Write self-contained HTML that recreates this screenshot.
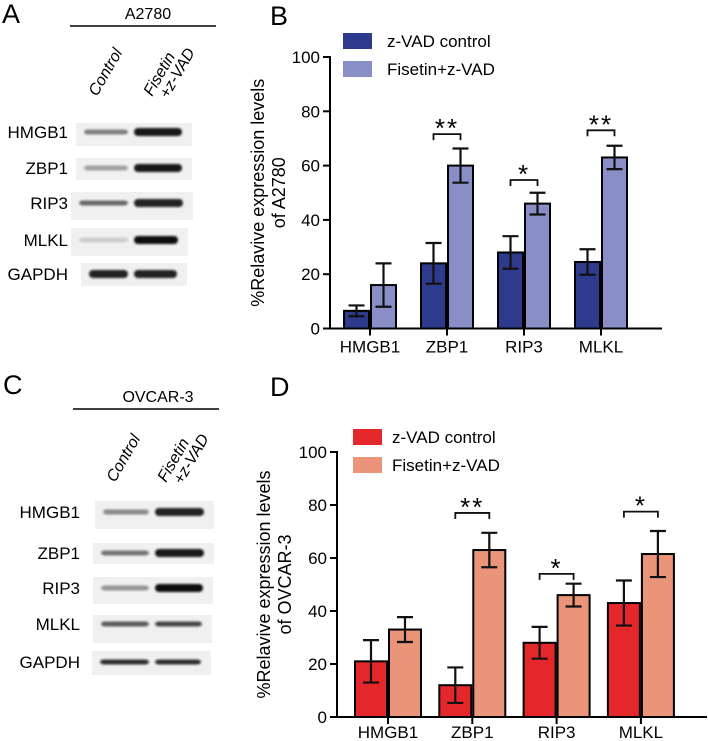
<!DOCTYPE html>
<html><head><meta charset="utf-8"><style>
html,body{margin:0;padding:0;background:#fff;}
svg{display:block;font-family:"Liberation Sans",Arial,sans-serif;}
</style></head><body>
<svg id="fig" width="708" height="741" viewBox="0 0 708 741">
<defs>
<filter id="blur2" x="-20%" y="-100%" width="140%" height="300%"><feGaussianBlur stdDeviation="1.1"/></filter>
</defs>
<g id="blotA"></g>
<g id="blotC"></g>
<g id="chartB"></g>
<g id="chartD"></g>
</svg>
<script>
// ---- chart data ----
const categories = ["HMGB1","ZBP1","RIP3","MLKL"];
const yTicks = [0,20,40,60,80,100];
const seriesNames = ["z-VAD control","Fisetin+z-VAD"];
const bControl = [6.5,24,28,24.5];
const bControlErr = [2,7.5,6,4.7];
const bFisetin = [16,60,46,63];
const bFisetinErr = [8,6.3,4,4.3];
const bSig = ["","**","*","**"];
const bSigLevel = [0,71.6,54.7,73];
const dControl = [21,12,28,43];
const dControlErr = [8,6.7,6,8.5];
const dFisetin = [33,63,46,61.5];
const dFisetinErr = [4.7,6.5,4.3,8.7];
const dSig = ["","**","*","*"];
const dSigLevel = [0,77,54,77.5];

const NS="http://www.w3.org/2000/svg";
function mk(parent,tag,attrs,text){const e=document.createElementNS(NS,tag);for(const k in attrs)e.setAttribute(k,attrs[k]);if(text!==undefined)e.textContent=text;parent.appendChild(e);return e;}

function chart(g,o){
  const y=v=>o.y0-(v/100)*(o.y0-o.y100);
  const cx=i=>o.c0+i*o.step;
  const lbl=mk(g,'text',{x:o.panelX,y:o.panelY,'font-size':27},o.panel);
  
  
  const ax=mk(g,'line',{x1:o.x0,y1:o.y100-1,x2:o.x0,y2:o.y0+1,stroke:'#000','stroke-width':2});
  
  
  const xa=mk(g,'line',{x1:o.x0-1,y1:o.y0,x2:o.xEnd,y2:o.y0,stroke:'#000','stroke-width':2});
  
  
  yTicks.forEach(t=>{
    const tk=mk(g,'line',{x1:o.x0-7,y1:y(t),x2:o.x0,y2:y(t),stroke:'#000','stroke-width':2});
    
    
    const tl=mk(g,'text',{x:o.x0-10,y:y(t)+6,'font-size':17,'text-anchor':'end'},String(t));
    
    
  });
  const yt=mk(g,'text',{transform:`translate(${o.ytX},${(o.y0+o.y100)/2}) rotate(-90)`,'font-size':18,'text-anchor':'middle'});
  
  
  mk(yt,'tspan',{x:0,dy:-10},'%Relavive expression levels');
  mk(yt,'tspan',{x:0,dy:21},o.title2);
  categories.forEach((c,i)=>{
    const tk=mk(g,'line',{x1:cx(i),y1:o.y0,x2:cx(i),y2:o.y0+7,stroke:'#000','stroke-width':2});
    
    
    const tl=mk(g,'text',{x:cx(i),y:o.y0+o.labDy,'font-size':17,'text-anchor':'middle'},c);
    
    
    [[o.a,o.ae,o.c1,-1],[o.b,o.be,o.c2,1]].forEach(([vals,errs,col,side],s)=>{
      const v=vals[i],e=errs[i];
      const x=side<0?cx(i)-o.bw:cx(i);
      const r=mk(g,'rect',{x:x+1,y:y(v),width:o.bw-2,height:o.y0-y(v),fill:col,stroke:'#000','stroke-width':2});
      
      
      const mx=x+o.bw/2;
      const eb=mk(g,'path',{d:`M${mx},${y(v+e)}V${y(v-e)}M${mx-8},${y(v+e)}H${mx+8}M${mx-8},${y(v-e)}H${mx+8}`,stroke:'#111','stroke-width':2.2,fill:'none'});
      
      
    });
    if(o.sig[i]){
      const l=cx(i)-o.bw/2,rr=cx(i)+o.bw/2,sy=y(o.sigL[i]);
      const br=mk(g,'path',{d:`M${l},${sy+6}V${sy}H${rr}V${sy+6}`,stroke:'#111','stroke-width':1.8,fill:'none'});
      
      
      const st=mk(g,'text',{x:cx(i),y:sy+3,'font-size':26,'letter-spacing':'2','text-anchor':'middle'},o.sig[i]);
      
      
    }
  });
  [o.c1,o.c2].forEach((col,s)=>{
    const r=mk(g,'rect',{x:o.legX,y:o.legY+s*28,width:29,height:16,fill:col});
    
    
    const t=mk(g,'text',{x:o.legX+o.legTx,y:o.legY+s*28+14,'font-size':17},seriesNames[s]);
    
    
  });
}
chart(document.getElementById('chartB'),{panel:'B',panelX:270,panelY:25,x0:330,xEnd:662,y0:328.5,y100:57,c0:370,step:77,bw:27,
  a:bControl,ae:bControlErr,b:bFisetin,be:bFisetinErr,sig:bSig,sigL:bSigLevel,c1:'#2e3a8c',c2:'#8a8ec6',
  ytX:274,title2:'of A2780',legX:343,legY:33,legTx:44,labDy:24});
chart(document.getElementById('chartD'),{panel:'D',panelX:270,panelY:396,x0:337,xEnd:707,y0:717,y100:452,c0:388,step:84.3,bw:34,
  a:dControl,ae:dControlErr,b:dFisetin,be:dFisetinErr,sig:dSig,sigL:dSigLevel,c1:'#e3272a',c2:'#ea9479',
  ytX:280,title2:'of OVCAR-3',legX:353,legY:429,legTx:39,labDy:21});

// ---- blots ----
const blotRowsA = ["HMGB1","ZBP1","RIP3","MLKL","GAPDH"];
function blot(g,o){
  const p=mk(g,'text',{x:o.px,y:o.py,'font-size':27},o.panel);
  
  
  const t=mk(g,'text',{x:o.titleX,y:o.titleY,'font-size':16,'text-anchor':'middle'},o.title);
  
  
  const ln=mk(g,'line',{x1:o.lineX1,y1:o.titleY+7,x2:o.lineX2,y2:o.titleY+7,stroke:'#000','stroke-width':1.5});
  
  
  const c=mk(g,'text',{transform:`translate(${o.l1x},${o.rotY}) rotate(-60)`,'font-size':16,'font-style':'italic'},'Control');
  
  
  const f=mk(g,'text',{transform:`translate(${o.l2x},${o.rotY}) rotate(-60)`,'font-size':16,'font-style':'italic'});
  
  
  mk(f,'tspan',{x:0,dy:0},'Fisetin');
  mk(f,'tspan',{x:6,dy:15},'+z-VAD');
  o.rows.forEach((r,i)=>{
    const rw=mk(g,'text',{x:o.lx,y:o.rowY[i]+6,'font-size':17,'text-anchor':'end'},blotRowsA[i]);
    
    
    const bx=mk(g,'rect',{x:r[0],y:r[1],width:r[2],height:r[3],fill:'#f0f0f0'});
    
    
    const cy=o.rowY[i];
    [[o.b1[i],r[0]+8,o.mid-4],[o.b2[i],o.mid+2,r[0]+r[2]-10]].forEach(([op,x1,x2])=>{
      const th=op>0.85?8:5;
      const bd=mk(g,'rect',{x:x1,y:cy-th/2,width:x2-x1,height:th,rx:4,fill:'#111',opacity:op,filter:'url(#blur2)'});
      
      
    });
  });
}
blot(document.getElementById('blotA'),{panel:'A',px:2,py:23,title:'A2780',titleX:148,titleY:19,lineX1:70,lineX2:216,
  l1x:97,l2x:152,rotY:97,lx:68,mid:132,
  rowY:[132,168,203,240,274],
  rows:[[76,123,116,23],[76,158,116,22],[71,192,122,28],[71,228,117,28],[81,263,106,23]],
  b1:[0.5,0.35,0.6,0.15,0.9],b2:[0.95,0.95,0.9,1,0.9]});
blot(document.getElementById('blotC'),{panel:'C',px:3,py:394,title:'OVCAR-3',titleX:158,titleY:402,lineX1:73,lineX2:219,
  l1x:115,l2x:166,rotY:483,lx:80,mid:153,
  rowY:[512,553,588,624,662],
  rows:[[95,501,119,28],[93,543,121,21],[93,577,120,27],[93,615,119,28],[92,651,119,24]],
  b1:[0.45,0.55,0.4,0.65,0.85],b2:[0.9,0.95,1,0.75,0.85]});
</script>
</body></html>
